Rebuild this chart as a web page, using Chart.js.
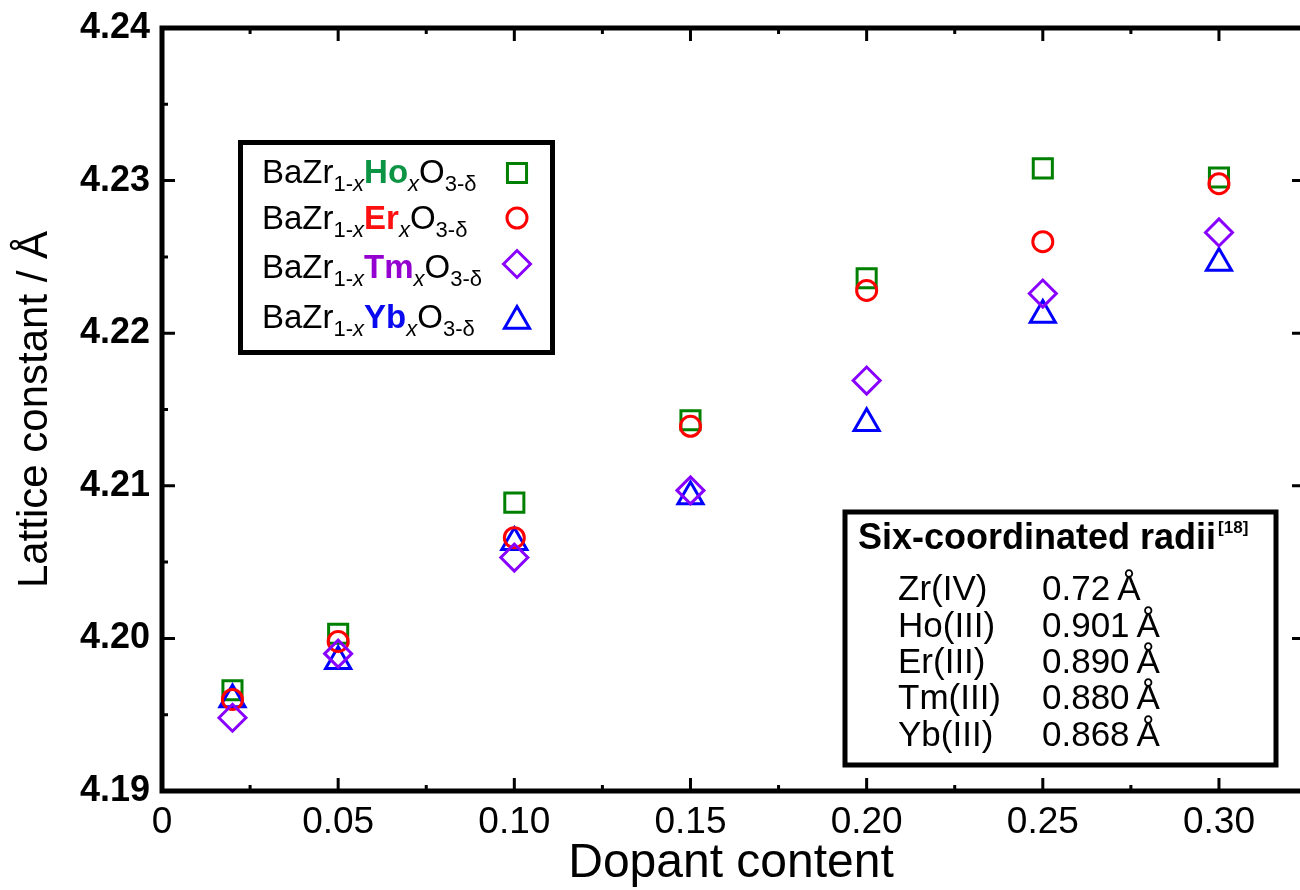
<!DOCTYPE html>
<html>
<head>
<meta charset="utf-8">
<script src="https://cdn.jsdelivr.net/npm/chart.js@4/dist/chart.umd.min.js"></script>
<style>
  body { margin: 0; background: #fff; }
  #wrap { width: 1300px; height: 890px; }
</style>
</head>
<body>
<div id="wrap"><canvas id="c" width="1300" height="890"></canvas></div>
<script>
const FONT = "'Liberation Sans', Arial, sans-serif";

// dopant content x
const dopant = [0.02, 0.05, 0.10, 0.15, 0.20, 0.25, 0.30];
// lattice constants (A)
const hoVals = [4.1966, 4.2003, 4.2089, 4.2143, 4.2236, 4.2308, 4.2302];
const erVals = [4.1960, 4.1998, 4.2066, 4.2139, 4.2228, 4.2260, 4.2298];
const tmVals = [4.1948, 4.1990, 4.2053, 4.2097, 4.2169, 4.2226, 4.2266];
const ybVals = [4.1960, 4.1985, 4.2063, 4.2093, 4.2141, 4.2212, 4.2246];

const xTickVals = [0, 0.05, 0.10, 0.15, 0.20, 0.25, 0.30];
const xTickLabels = ["0", "0.05", "0.10", "0.15", "0.20", "0.25", "0.30"];
const xMinorVals = [0.025, 0.075, 0.125, 0.175, 0.225, 0.275];
const yTickVals = [4.19, 4.20, 4.21, 4.22, 4.23, 4.24];
const yTickLabels = ["4.19", "4.20", "4.21", "4.22", "4.23", "4.24"];
const yMinorVals = [4.195, 4.205, 4.215, 4.225, 4.235];

const dopants = ["Ho", "Er", "Tm", "Yb"];
const markerColors = ["#008000", "#ff0000", "#8800ff", "#0000ff"];
const nameColors = ["#0b9444", "#ff1010", "#9300d0", "#0a0af0"];
const markerStyles = ["rect", "circle", "rectRot", "triangle"];
const markerRadius = [13.5, 10, 13.5, 14.5];

const ionLabels = ["Zr(IV)", "Ho(III)", "Er(III)", "Tm(III)", "Yb(III)"];
const ionRadii = ["0.72", "0.901", "0.890", "0.880", "0.868"];

const series = [hoVals, erVals, tmVals, ybVals];
const drawOrder = [4, 2, 1, 3];

const datasets = dopants.map((name, i) => ({
    label: "BaZr1-x" + name + "xO3-δ",
    data: series[i].map((y, j) => ({ x: dopant[j], y })),
    pointStyle: markerStyles[i],
    pointRadius: markerRadius[i],
    pointBorderWidth: 3,
    pointBorderColor: markerColors[i],
    pointBackgroundColor: "rgba(0,0,0,0)",
    showLine: false,
    order: drawOrder[i]
}));

function drawRuns(ctx, x, y, runs) {
    ctx.textAlign = "left";
    ctx.textBaseline = "alphabetic";
    for (const r of runs) {
        ctx.font = r.font;
        ctx.fillStyle = r.color || "#000";
        ctx.fillText(r.text, x, y + (r.dy || 0));
        x += ctx.measureText(r.text).width;
    }
    return x;
}

const framePlugin = {
    id: "frame",
    afterDraw(chart) {
        const { ctx, chartArea: a, scales: { x, y } } = chart;
        ctx.save();
        ctx.strokeStyle = "#000";
        ctx.lineCap = "butt";

        // axis lines
        ctx.lineWidth = 5;
        ctx.beginPath();
        ctx.moveTo(a.left, a.top);
        ctx.lineTo(a.left, a.bottom + 2);
        ctx.moveTo(a.left - 2.5, a.top);
        ctx.lineTo(a.right, a.top);
        ctx.moveTo(a.left - 2.5, a.bottom);
        ctx.lineTo(a.right, a.bottom);
        ctx.stroke();

        // ticks, all pointing inward
        ctx.lineWidth = 3;
        ctx.beginPath();
        for (const v of yTickVals.slice(1, -1)) {
            const py = y.getPixelForValue(v);
            ctx.moveTo(a.left, py); ctx.lineTo(a.left + 13, py);
            ctx.moveTo(a.right, py); ctx.lineTo(a.right - 8, py);
        }
        for (const v of yMinorVals) {
            const py = y.getPixelForValue(v);
            ctx.moveTo(a.left, py); ctx.lineTo(a.left + 6, py);
        }
        for (const v of xTickVals.slice(1)) {
            const px = x.getPixelForValue(v);
            ctx.moveTo(px, a.bottom); ctx.lineTo(px, a.bottom - 13);
            ctx.moveTo(px, a.top); ctx.lineTo(px, a.top + 13);
        }
        for (const v of xMinorVals) {
            const px = x.getPixelForValue(v);
            ctx.moveTo(px, a.bottom); ctx.lineTo(px, a.bottom - 6);
            ctx.moveTo(px, a.top); ctx.lineTo(px, a.top + 6);
        }
        ctx.stroke();

        // legend box
        ctx.lineWidth = 5;
        ctx.strokeRect(240.5, 142.5, 312, 210);
        const base = [183, 229, 278, 328];
        const markY = [173, 218, 264, 321];
        const big = "33px " + FONT;
        const sub = "22px " + FONT;
        const subI = "italic 22px " + FONT;
        const bold = "bold 33px " + FONT;
        dopants.forEach((name, i) => {
            drawRuns(ctx, 262, base[i], [
                { text: "BaZr", font: big },
                { text: "1-", font: sub, dy: 8 },
                { text: "x", font: subI, dy: 8 },
                { text: name, font: bold, color: nameColors[i] },
                { text: "x", font: subI, dy: 8 },
                { text: "O", font: big },
                { text: "3-δ", font: sub, dy: 8 }
            ]);
            ctx.strokeStyle = markerColors[i];
            ctx.fillStyle = "rgba(0,0,0,0)";
            ctx.lineWidth = 3;
            Chart.helpers.drawPoint(ctx, {
                pointStyle: markerStyles[i],
                radius: markerRadius[i],
                borderWidth: 3,
                rotation: 0
            }, 517, markY[i]);
        });

        // radii box
        ctx.strokeStyle = "#000";
        ctx.lineWidth = 5;
        ctx.strokeRect(845, 512, 431, 253);
        const endX = drawRuns(ctx, 858, 549, [
            { text: "Six-coordinated radii", font: "bold 36px " + FONT }
        ]);
        drawRuns(ctx, endX + 2, 533, [
            { text: "[18]", font: "bold 17px " + FONT }
        ]);
        const rowBase = [600, 637, 673, 709, 746];
        ionLabels.forEach((lab, i) => {
            drawRuns(ctx, 898, rowBase[i], [{ text: lab, font: "35px " + FONT }]);
            drawRuns(ctx, 1042, rowBase[i], [{ text: ionRadii[i] + "\u2009Å", font: "35px " + FONT }]);
        });
        ctx.restore();
    }
};

new Chart(document.getElementById("c"), {
    type: "scatter",
    data: { datasets },
    options: {
        responsive: false,
        animation: false,
        devicePixelRatio: 1,
        layout: { autoPadding: false, padding: { top: 28, right: 0, left: 0, bottom: 0 } },
        plugins: { legend: { display: false }, tooltip: { enabled: false } },
        scales: {
            x: {
                type: "linear",
                min: 0,
                max: 0.323,
                afterBuildTicks: (s) => { s.ticks = xTickVals.map((v) => ({ value: v })); },
                afterFit: (s) => { s.height = 99; s.paddingLeft = 0; s.paddingRight = 0; },
                grid: { display: false, drawTicks: false },
                border: { display: false },
                ticks: {
                    autoSkip: false,
                    maxRotation: 0,
                    padding: 10,
                    color: "#000",
                    font: { family: FONT, size: 37 },
                    callback: (v, i) => xTickLabels[i]
                },
                title: {
                    display: true,
                    text: "Dopant content",
                    color: "#000",
                    font: { family: FONT, size: 48, lineHeight: 1 },
                    padding: { top: 0, bottom: 2 }
                }
            },
            y: {
                type: "linear",
                min: 4.19,
                max: 4.24,
                afterBuildTicks: (s) => { s.ticks = yTickVals.map((v) => ({ value: v })); },
                afterFit: (s) => { s.width = 162; s.paddingTop = 0; s.paddingBottom = 0; },
                grid: { display: false, drawTicks: false },
                border: { display: false },
                ticks: {
                    autoSkip: false,
                    padding: 12,
                    color: "#000",
                    font: { family: FONT, size: 36, weight: "bold" },
                    callback: (v, i) => yTickLabels[i]
                },
                title: {
                    display: true,
                    text: "Lattice constant / Å",
                    color: "#000",
                    font: { family: FONT, size: 42, lineHeight: 1.2 },
                    padding: { top: 10, bottom: 0 }
                }
            }
        }
    },
    plugins: [framePlugin]
});
</script>
</body>
</html>
